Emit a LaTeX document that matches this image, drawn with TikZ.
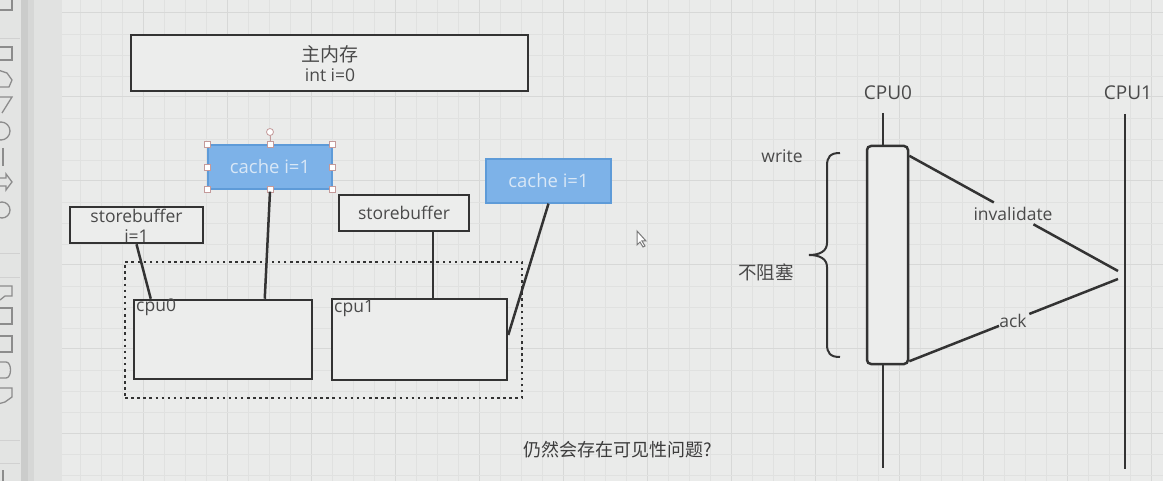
\documentclass[tikz,border=0pt]{standalone}
\usepackage{fontspec}
\setmainfont{Open Sans}
\newfontfamily\cjk{Noto Sans CJK SC}
\usetikzlibrary{calc}
\definecolor{canvas}{HTML}{EAEBEA}
\definecolor{boxfill}{HTML}{ECEDEC}
\definecolor{gridminor}{HTML}{E0E1E0}
\definecolor{gridmajor}{HTML}{D7D8D7}
\definecolor{ink}{HTML}{333333}
\definecolor{txt}{HTML}{4A4A4A}
\definecolor{bluefill}{HTML}{7DB2E8}
\definecolor{blueline}{HTML}{5E9BD8}
\definecolor{bluetext}{HTML}{D8E7F6}
\definecolor{handle}{HTML}{C49A9A}
\definecolor{iconc}{HTML}{8C8C8C}
\definecolor{sidea}{HTML}{E3E4E3}
\definecolor{sideb}{HTML}{CBCCCB}
\definecolor{sidec}{HTML}{D6D7D6}
\definecolor{sided}{HTML}{E1E2E1}
\definecolor{cursorc}{HTML}{7A7A7A}
\definecolor{subc}{HTML}{3C3C3C}
\tikzset{
  box/.style={draw=ink, line width=2.5pt, fill=boxfill, inner sep=0pt, text=txt},
  bluebox/.style={draw=blueline, line width=1.2pt, fill=bluefill, inner sep=0pt, text=bluetext},
  lbl/.style={text=txt, inner sep=0pt, font=\fontsize{17.5}{20}\selectfont, align=center},
  cjklbl/.style={text=txt, inner sep=0pt, font=\cjk\fontsize{18.5}{20}\selectfont},
  wire/.style={draw=ink, line width=2.5pt},
  life/.style={draw=ink, line width=2.5pt},
  hdl/.style={draw=handle, fill=white, line width=0.8pt},
  icon/.style={draw=iconc, line width=1.3pt},
  sep/.style={draw=iconc!40, line width=0.8pt}
}
\begin{document}
\begin{tikzpicture}[x=1pt,y=-1pt]
% background
\useasboundingbox (0,0) rectangle (1163,481);
\fill[canvas] (0,0) rectangle (1163,481);
% sidebar
\fill[sidea] (0,0) rectangle (21,481);
\fill[sideb] (21,0) rectangle (34,481);
\fill[sidec] (28,0) rectangle (34,481);
\fill[sided] (34,0) rectangle (62,481);
% grid
\foreach \i in {1,...,52} {
  \pgfmathtruncatemacro{\m}{mod(\i,4)}
  \ifnum\m=0 \draw[gridmajor, line width=1pt] ({59+21*\i},0) -- ({59+21*\i},481);
  \else \draw[gridminor, line width=0.8pt] ({59+21*\i},0) -- ({59+21*\i},481); \fi
}
\foreach \j in {0,...,22} {
  \pgfmathtruncatemacro{\m}{mod(\j,4)}
  \ifnum\m=0 \draw[gridmajor, line width=1pt] (62,{13+21*\j}) -- (1163,{13+21*\j});
  \else \draw[gridminor, line width=0.8pt] (62,{13+21*\j}) -- (1163,{13+21*\j}); \fi
}
% sidebar icons
\draw[icon] (-2,10) -- (12,10) -- (12,-2);
\draw[sep] (0,38) -- (20,38);
\draw[icon] (-2,47) rectangle (12,60);
\draw[icon] (-2,70) -- (7,73) -- (12,80) -- (9,87) -- (-2,87);
\draw[icon] (-2,97) -- (12,97) -- (2,113);
\draw[icon] (1,131) circle (9);
\draw[icon] (3,148) -- (3,166);
\draw[icon] (0,178) -- (6,178) -- (6,174) -- (12,182) -- (6,190) -- (6,186) -- (0,186);
\draw[icon] (2,210) circle (8);
\draw[sep] (0,253) -- (20,253);
\draw[sep] (0,277) -- (20,277);
\draw[icon] (-2,286) -- (12,286) -- (12,296) -- (5,296) -- (0,300);
\draw[icon] (-2,308) rectangle (12,324);
\draw[icon] (-2,336) rectangle (12,352);
\draw[icon] (-2,362) -- (6,362) .. controls (12,362) and (12,378) .. (6,378) -- (-2,378);
\draw[icon] (-2,388) -- (12,388) -- (12,397) -- (5,402) -- (-2,404);
\draw[sep] (0,440) -- (20,440);
\draw[sep] (0,463) -- (20,463);
\draw[icon] (3,470) -- (3,483);

% ===== left diagram =====
\node[box, minimum width=397pt, minimum height=56pt] (mem) at (329.5,63) {};
\node[lbl, font=\cjk\fontsize{19}{20}\selectfont] (memt1) at (330,54) {主内存};
\node[lbl] (memt2) at (330,75) {int i=0};

\node[draw=ink, line width=2.5pt, dash pattern=on 2.5pt off 3.6pt, inner sep=0pt,
      minimum width=397pt, minimum height=136pt] (grp) at (323.5,330) {};

\node[box, minimum width=178pt, minimum height=79pt] (cpu0) at (223,339.5) {};
\node[lbl, anchor=north west] (cpu0t) at (136,299) {cpu0};
\node[box, minimum width=175pt, minimum height=81pt] (cpu1) at (419.5,339.5) {};
\node[lbl, anchor=north west] (cpu1t) at (334,300) {cpu1};

\node[box, minimum width=133pt, minimum height=36pt] (sb0) at (136.5,225) {};
\node[lbl] (sb0t) at (136.5,226) {storebuffer\\i=1};
\node[box, minimum width=130pt, minimum height=36pt] (sb1) at (404,213) {};
\node[lbl] (sb1t) at (404,213) {storebuffer};

\node[bluebox, minimum width=124pt, minimum height=44pt, font=\fontsize{18.5}{20}\selectfont] (c0) at (270,167) {cache i=1};
\node[bluebox, minimum width=125pt, minimum height=44pt, font=\fontsize{18.5}{20}\selectfont] (c1) at (548.5,181) {cache i=1};

% selection handles on c0
\coordinate (rot) at (270,132);
\draw[handle, line width=0.8pt] (rot) -- (c0.north);
\draw[hdl] (rot) circle (3.5);
\foreach \a in {north west,north,north east,east,south east,south,south west,west}
  \filldraw[hdl] ($(c0.\a)+(-3,-3)$) rectangle ++(6,6);

% connectors
\draw[wire] (sb0.south) -- ([xshift=18pt]cpu0.north west);
\draw[wire] ([yshift=-2pt]c0.south) -- ([xshift=132pt]cpu0.north west);
\draw[wire] ([xshift=95pt]sb1.south west) -- ([xshift=102pt]cpu1.north west);
\draw[wire] (c1.south) -- ([yshift=4.5pt]cpu1.east);

% mouse cursor
\filldraw[draw=cursorc, fill=white, line width=1pt] (637,231) -- (637,245) -- (640,242) -- (643,247) -- (645,246) -- (642,241) -- (646,241) -- cycle;

% ===== right diagram =====
\node[lbl, font=\fontsize{19}{20}\selectfont] (cpu0l) at (888,93) {CPU0};
\node[lbl, font=\fontsize{19}{20}\selectfont] (cpu1l) at (1128,93) {CPU1};
\coordinate (l0t) at (883,113);
\coordinate (l0b) at (883,468);
\coordinate (l1t) at (1125,114);
\coordinate (l1b) at (1125,469);
\draw[life] (l0t) -- (l0b);
\draw[life] (l1t) -- (l1b);
\node[draw=ink, line width=2.5pt, fill=boxfill, rounded corners=4pt, inner sep=0pt,
      minimum width=41pt, minimum height=218pt] (act) at (887.5,255) {};

\coordinate (p1) at (1118,271);
\coordinate (p2) at (1118,279);
\coordinate (inv0) at ([yshift=-11pt]act.north east);
\coordinate (ack0) at ([yshift=4pt]act.south east);
\draw[wire] (inv0) -- ($(inv0)!0.405!(p1)$);
\draw[wire] ($(inv0)!0.595!(p1)$) -- (p1);
\node[lbl] (invt) at (1013,214) {invalidate};
\draw[wire] (ack0) -- ($(ack0)!0.43!(p2)$);
\draw[wire] ($(ack0)!0.575!(p2)$) -- (p2);
\node[lbl] (ackt) at (1013,321) {ack};

% brace
\draw[ink, line width=2pt]
  (840,153) .. controls (830,153) and (827,157) .. (827,166)
  -- (827,243) .. controls (827,251) and (820,255) .. (809,255)
  .. controls (820,255) and (827,259) .. (827,267)
  -- (827,344) .. controls (827,353) and (830,357) .. (840,357);
\node[lbl] (writet) at (782,156) {write};
\node[cjklbl] (nbt) at (766,272) {不阻塞};

% subtitle
\node[text=subc, inner sep=0pt, font=\cjk\fontsize{18}{20}\selectfont] (sub) at (618,450) {仍然会存在可见性问题?};
\end{tikzpicture}
\end{document}
